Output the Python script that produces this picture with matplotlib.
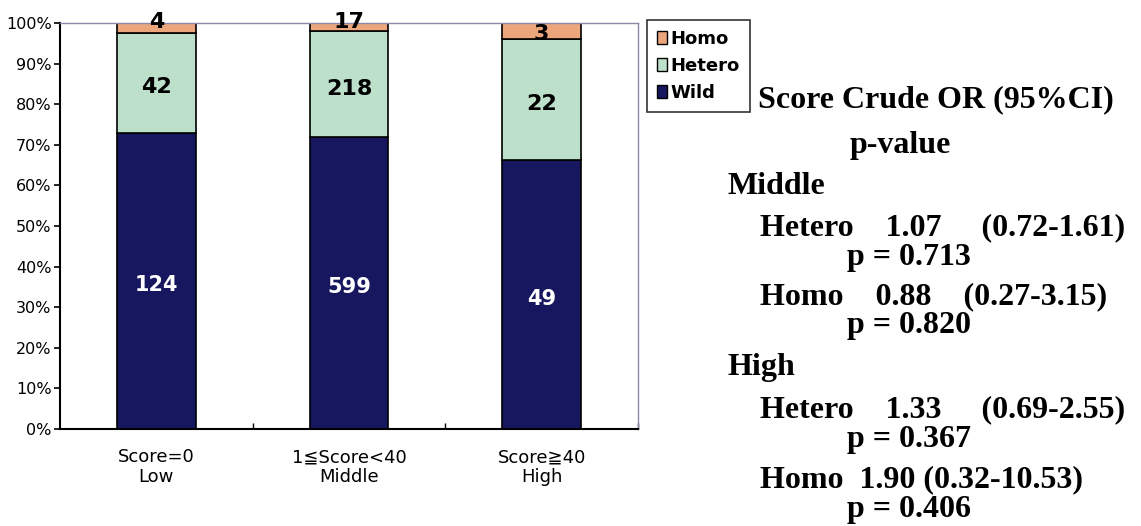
import numpy as np
import matplotlib.pyplot as plt
from matplotlib.patches import Patch

# genotype counts per score group
groups = ['Score=0\nLow', '1≦Score<40\nMiddle', 'Score≧40\nHigh']
wild = [124, 599, 49]
hetero = [42, 218, 22]
homo = [4, 17, 3]

# odds ratio summary lines shown beside the chart
or_lines = [
    ('Score Crude OR (95%CI)', 758, 100),
    ('p-value', 850, 145),
    ('Middle', 727, 186),
    ('Hetero    1.07     (0.72-1.61)', 760, 228),
    ('p = 0.713', 847, 257),
    ('Homo    0.88    (0.27-3.15)', 760, 297),
    ('p = 0.820', 847, 326),
    ('High', 727, 368),
    ('Hetero    1.33     (0.69-2.55)', 760, 410),
    ('p = 0.367', 847, 439),
    ('Homo  1.90 (0.32-10.53)', 760, 480),
    ('p = 0.406', 847, 510),
]

W, H = 1141, 526
SANS = ['DejaVu Sans', 'Noto Sans CJK JP']

fig = plt.figure(figsize=(W / 100, H / 100), dpi=100)
ax = fig.add_axes([60 / W, 1 - 429 / H, 578 / W, 406 / H])

wild = np.array(wild, dtype=float)
hetero = np.array(hetero, dtype=float)
homo = np.array(homo, dtype=float)
total = wild + hetero + homo
p_wild = wild / total * 100
p_het = hetero / total * 100
p_homo = homo / total * 100

x = np.arange(len(groups))
bw = 0.41
c_wild, c_het, c_homo = '#17175f', '#bce0c9', '#eca67c'
ax.bar(x, p_wild, bw, color=c_wild, edgecolor='black', linewidth=1.2)
ax.bar(x, p_het, bw, bottom=p_wild, color=c_het, edgecolor='black',
       linewidth=1.2)
ax.bar(x, p_homo, bw, bottom=p_wild + p_het, color=c_homo,
       edgecolor='black', linewidth=1.2)

# thin top segments get their label lifted above the bar (points)
homo_lift = [6, 6, 0]

for i in range(len(groups)):
    ax.annotate(f'{int(wild[i])}', (x[i], p_wild[i] / 2),
                xytext=(0, -3), textcoords='offset points', ha='center',
                va='center', color='white', fontsize=15, fontweight='bold',
                family=SANS)
    ax.annotate(f'{int(hetero[i])}', (x[i], p_wild[i] + p_het[i] / 2),
                xytext=(0, -3), textcoords='offset points', ha='center',
                va='center', color='black', fontsize=16, fontweight='bold',
                family=SANS)
    ax.annotate(f'{int(homo[i])}', (x[i], 100 - p_homo[i] / 2),
                xytext=(0, homo_lift[i] - 2), textcoords='offset points',
                ha='center', va='center', color='black', fontsize=16,
                fontweight='bold', family=SANS, annotation_clip=False)

ax.set_xlim(-0.5, 2.5)
ax.set_ylim(0, 100)
ax.set_yticks(np.arange(0, 101, 10))
ax.set_yticklabels([f'{v}%' for v in range(0, 101, 10)], family=SANS,
                   fontsize=11.5)
ax.tick_params(axis='y', direction='out', length=4, width=1.2, pad=2)

ax.set_xticks([0.5, 1.5, 2.5])
ax.set_xticks(x, minor=True)
ax.set_xticklabels([])
ax.set_xticklabels(groups, minor=True, family=SANS, fontsize=13,
                   linespacing=1.1)
ax.tick_params(axis='x', which='major', direction='in', length=4, width=1)
ax.tick_params(axis='x', which='minor', length=0, pad=14)

for side in ['left', 'bottom']:
    ax.spines[side].set_linewidth(1.5)
    ax.spines[side].set_color('black')
for side in ['top', 'right']:
    ax.spines[side].set_linewidth(1)
    ax.spines[side].set_color('#8a8aa8')

handles = [Patch(facecolor=c_homo, edgecolor='black', label='Homo'),
           Patch(facecolor=c_het, edgecolor='black', label='Hetero'),
           Patch(facecolor=c_wild, edgecolor='black', label='Wild')]
leg = fig.legend(handles=handles, loc='upper left',
                 bbox_to_anchor=(647 / W, 1 - 20 / H), frameon=True,
                 fancybox=False, edgecolor='black', handlelength=0.55,
                 handleheight=0.75, handletextpad=0.2, borderpad=0.55,
                 labelspacing=0.5, borderaxespad=0,
                 prop={'family': SANS, 'weight': 'bold', 'size': 13})
leg.get_frame().set_linewidth(1.2)

for text, px, py in or_lines:
    fig.text(px / W, 1 - py / H, text, ha='left', va='center',
             family='Liberation Serif', fontweight='bold', fontsize=23)

fig.savefig('out.png', dpi=100)
